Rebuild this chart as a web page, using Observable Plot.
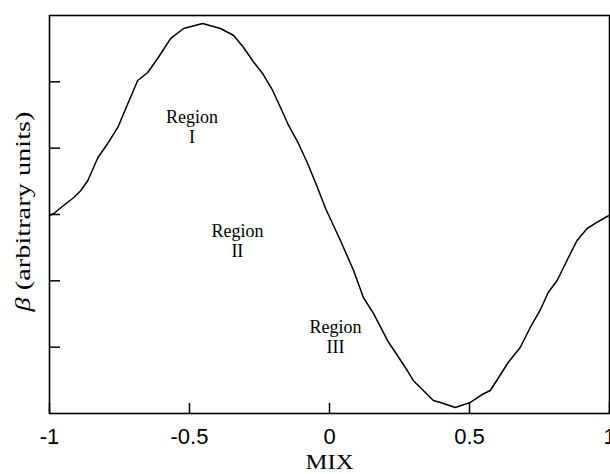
<!DOCTYPE html>
<html>
<head>
<meta charset="utf-8">
<script src="https://cdn.jsdelivr.net/npm/d3@7"></script>
<script src="https://cdn.jsdelivr.net/npm/@observablehq/plot@0.6"></script>
<style>
  html, body { margin: 0; padding: 0; background: #fff; }
  #chart { width: 610px; height: 474px; }
</style>
</head>
<body>
<div id="chart"></div>
<script>
const mixValues = [-1.000, -0.984, -0.959, -0.913, -0.888, -0.863, -0.827, -0.792, -0.756, -0.720,
  -0.685, -0.649, -0.614, -0.567, -0.521, -0.453, -0.389, -0.342, -0.307, -0.275,
  -0.239, -0.203, -0.175, -0.146, -0.111, -0.078, -0.043, -0.014, 0.039, 0.086,
  0.121, 0.157, 0.207, 0.278, 0.299, 0.371, 0.396, 0.449, 0.503, 0.545,
  0.574, 0.602, 0.638, 0.681, 0.717, 0.752, 0.781, 0.813, 0.848, 0.884,
  0.920, 0.955, 0.991, 1.000];
const betaValues = [2.985, 3.015, 3.106, 3.256, 3.362, 3.513, 3.859, 4.071, 4.312, 4.674,
  5.020, 5.141, 5.352, 5.654, 5.804, 5.880, 5.804, 5.699, 5.518, 5.322,
  5.126, 4.870, 4.613, 4.342, 4.071, 3.769, 3.407, 3.091, 2.608, 2.156,
  1.749, 1.508, 1.101, 0.648, 0.498, 0.196, 0.166, 0.090, 0.166, 0.286,
  0.347, 0.528, 0.769, 0.995, 1.297, 1.553, 1.824, 2.005, 2.307, 2.608,
  2.789, 2.880, 2.970, 2.985];
const xTicks = [-1, -0.5, 0, 0.5, 1];
const xTickLabels = ["-1", "-0.5", "0", "0.5", "1"];
const yTicks = [1, 2, 3, 4, 5];
const regionLabels = ["Region\nI", "Region\nII", "Region\nIII"];
const regionX = [-0.491, -0.329, 0.021];
const regionY = [4.33, 2.61, 1.16];
const xLabel = "MIX";
const yLabel = "β (arbitrary units)";

const curve = mixValues.map((x, i) => ({x, y: betaValues[i]}));
const regions = regionLabels.map((t, i) => ({t, x: regionX[i], y: regionY[i]}));

const serif = "'Liberation Serif', 'Times New Roman', serif";
const sans = "'Liberation Sans', Arial, sans-serif";

const chart = Plot.plot({
  width: 610,
  height: 474,
  marginLeft: 49,
  marginRight: 1,
  marginTop: 15,
  marginBottom: 61,
  x: {domain: [-1, 1]},
  y: {domain: [0, 6]},
  style: {background: "#fff", color: "#000"},
  marks: [
    Plot.axisX({ticks: xTicks, tickSize: -10, tickFormat: () => "", strokeWidth: 1.5, label: null}),
    Plot.axisX({ticks: xTicks, tickSize: 0, tickPadding: 15, tickFormat: (d) => xTickLabels[xTicks.indexOf(d)], fontSize: 22, fontFamily: sans, label: null}),
    Plot.axisY({ticks: yTicks, tickSize: -11, tickFormat: () => "", strokeWidth: 1.5, label: null}),
    Plot.frame({stroke: "#000", strokeWidth: 1.6}),
    Plot.line(curve, {x: "x", y: "y", stroke: "#000", strokeWidth: 1.5}),
    Plot.text(regions, {x: "x", y: "y", text: "t", fontSize: 18, fontFamily: serif, lineHeight: 1.1, lineAnchor: "middle", fill: "#000"}),
    Plot.text([xLabel], {frameAnchor: "bottom", dy: 48, fontSize: 22, fontFamily: serif, lineAnchor: "middle", fill: "#000"}),
    Plot.text([yLabel], {frameAnchor: "left", textAnchor: "middle", dx: -26, dy: -3, rotate: -90, fontSize: 21, fontFamily: serif, lineAnchor: "middle", fill: "#000"})
  ]
});
document.getElementById("chart").appendChild(chart);

// italicize the beta symbol and stretch the axis titles like the scanned original
d3.select(chart).selectAll("text").each(function () {
  if (this.textContent === yLabel) {
    const el = d3.select(this);
    el.text(null);
    el.attr("textLength", 200).attr("lengthAdjust", "spacingAndGlyphs");
    el.append("tspan").attr("font-style", "italic").text("β");
    el.append("tspan").text(" (arbitrary units)");
  } else if (this.textContent === xLabel) {
    d3.select(this).attr("textLength", 48).attr("lengthAdjust", "spacingAndGlyphs");
  }
});
</script>
</body>
</html>
